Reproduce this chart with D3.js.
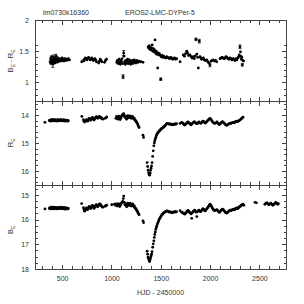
<!DOCTYPE html>
<meta charset="utf-8">
<script src="https://cdn.jsdelivr.net/npm/d3@7"></script>
<style type="text/css">
body { margin: 0; background: #fff; }
text { font-family: "Liberation Sans", Arial, sans-serif; fill: #333; }
.frame { fill: none; stroke: #444; stroke-width: 1; shape-rendering: crispEdges; }
.tick line { stroke: #444; shape-rendering: crispEdges; }
.domain { display: none; }
</style>
<body>
<script>

var title1 = "lm0730k16360";
var title2 = "EROS2-LMC-DYPer-5";
var xLabel = "HJD - 2450000";

var xTicks = [500, 1000, 1500, 2000, 2500];
var colorTicks = [1, 1.5, 2];
var rTicks = [14, 15, 16];
var bTicks = [15, 16, 17, 18];

// B_E - R_E colour: [day, value]
var colorPoints = [
  [378,1.33],[382,1.38],[386,1.3],[390,1.36],[394,1.41],[398,1.32],[402,1.35],[406,1.29],[410,1.37],[414,1.4],
  [418,1.33],[422,1.36],[426,1.31],[430,1.38],[434,1.34],[438,1.42],[442,1.36],[446,1.32],[450,1.37],[454,1.35],
  [458,1.39],[462,1.33],[466,1.36],[470,1.38],[476,1.35],[482,1.37],[488,1.34],[494,1.36],[500,1.39],[506,1.35],
  [512,1.37],[518,1.34],[524,1.36],[530,1.38],[536,1.36],[542,1.35],[548,1.37],[556,1.36],[564,1.38],[574,1.36],
  [699,1.33],[720,1.35],[728,1.37],[736,1.39],[744,1.38],[752,1.36],[760,1.38],[768,1.4],[776,1.38],[784,1.36],
  [792,1.37],[800,1.39],[808,1.37],[816,1.35],[824,1.36],[832,1.38],[840,1.36],[848,1.33],[870,1.31],[878,1.34],
  [886,1.37],[894,1.35],[902,1.33],[930,1.32],[940,1.35],[950,1.37],
  [1054,1.32],[1060,1.35],[1066,1.3],[1072,1.34],[1078,1.37],[1084,1.31],[1090,1.29],[1096,1.35],[1102,1.33],[1108,1.38],
  [1114,1.3],[1118,1.09],[1124,1.47],[1128,1.42],[1134,1.33],[1140,1.29],[1146,1.35],[1152,1.31],[1158,1.34],[1164,1.37],
  [1170,1.3],[1176,1.33],[1182,1.36],[1188,1.31],[1194,1.29],[1200,1.34],[1206,1.32],[1212,1.35],[1218,1.3],[1224,1.33],
  [1230,1.36],[1236,1.32],[1242,1.34],[1248,1.31],[1256,1.35],[1264,1.33],[1272,1.32],[1280,1.34],[1300,1.33],[1320,1.32],
  [1372,1.57],[1378,1.55],[1384,1.59],[1390,1.53],[1396,1.56],[1402,1.52],[1408,1.55],[1414,1.6],[1420,1.5],[1426,1.54],
  [1432,1.49],[1442,1.68],[1438,1.52],[1448,1.47],[1454,1.5],[1460,1.45],[1469,1.23],[1474,1.47],[1480,1.44],[1487,1.46],
  [1500,1.05],[1496,1.43],[1505,1.41],[1514,1.43],[1522,1.4],[1530,1.42],[1540,1.4],[1550,1.39],[1560,1.41],[1570,1.4],
  [1580,1.39],[1590,1.38],[1600,1.4],[1610,1.39],[1620,1.37],[1630,1.38],[1640,1.39],[1652,1.37],[1662,1.38],[1696,1.33],
  [1729,1.44],[1740,1.42],[1752,1.46],[1763,1.5],[1772,1.47],[1782,1.43],[1797,1.44],[1808,1.41],[1818,1.39],[1830,1.41],
  [1840,1.38],[1848,1.42],[1857,1.69],[1866,1.45],[1874,1.4],[1881,1.23],[1891,1.66],[1898,1.41],[1906,1.39],[1914,1.37],
  [1922,1.38],[1932,1.39],[1942,1.36],[1952,1.35],[1966,1.36],[1978,1.33],[1988,1.31],[1999,1.28],[2010,1.34],[2022,1.35],
  [2033,1.36],[2045,1.34],[2056,1.35],[2067,1.33],
  [2101,1.38],[2112,1.39],[2122,1.4],[2132,1.39],[2142,1.38],[2152,1.39],[2162,1.41],[2172,1.4],[2182,1.38],[2192,1.37],
  [2202,1.39],[2212,1.38],[2222,1.36],[2232,1.38],[2242,1.37],[2252,1.35],[2262,1.38],[2272,1.36],[2282,1.39],[2290,1.41],
  [2296,1.44],[2303,1.57],[2308,1.49],[2313,1.42],[2318,1.37],[2322,1.4],[2327,1.28],[2332,1.35],[2340,1.34]
];

// colour points carrying visible error bars: [day, value, error]
var colorErrors = [
  [390,1.36,0.06],[406,1.29,0.05],[414,1.4,0.04],[438,1.42,0.03],[720,1.35,0.02],[1118,1.09,0.03],[1124,1.47,0.04],
  [1500,1.05,0.02],[1857,1.69,0.02],[1891,1.66,0.03],[1999,1.28,0.03],[2303,1.57,0.03],[2327,1.28,0.02]
];

// R_E magnitude: [day, value]
var rPoints = [
  [326,14.26],[370,14.2],[376,14.18],[381,14.22],[386,14.19],[391,14.17],[396,14.21],[401,14.18],[406,14.2],[411,14.16],
  [416,14.19],[421,14.21],[426,14.18],[431,14.2],[436,14.17],[441,14.19],[446,14.22],[451,14.18],[456,14.2],[461,14.17],
  [466,14.19],[471,14.21],[476,14.18],[481,14.2],[486,14.16],[491,14.19],[496,14.2],[501,14.18],[506,14.21],[511,14.19],
  [516,14.17],[521,14.2],[526,14.22],[531,14.19],[536,14.18],[541,14.2],[546,14.21],[552,14.19],[558,14.22],[563,14.2],
  [700,14.05],[716,14.17],[722,14.22],[728,14.25],[734,14.23],[740,14.2],[746,14.17],[752,14.19],[758,14.22],[764,14.18],
  [770,14.14],[776,14.12],[782,14.15],[788,14.19],[794,14.16],[800,14.12],[806,14.09],[812,14.11],[818,14.15],[824,14.18],
  [830,14.14],[836,14.1],[842,14.08],[848,14.06],[854,14.09],[860,14.12],[866,14.1],[872,14.07],[878,14.05],[884,14.08],
  [890,14.11],[896,14.09],[904,14.12],[912,14.15],[935,14.12],[945,14.1],[952,14.07],
  [1045,14.12],[1052,14.05],[1058,14.1],[1064,14.15],[1070,14.08],[1076,14.04],[1082,14.1],[1088,14.16],[1094,14.12],[1100,14.06],
  [1106,14.02],[1112,14.0],[1118,13.97],[1124,13.95],[1130,14.02],[1136,14.08],[1142,14.04],[1148,14.1],[1154,14.15],[1160,14.08],
  [1166,14.02],[1172,14.05],[1178,14.1],[1184,14.06],[1190,14.03],[1196,14.08],[1202,14.12],[1208,14.1],[1214,14.05],[1220,14.09],
  [1226,14.14],[1232,14.12],[1238,14.18],[1244,14.2],[1250,14.22],[1256,14.26],[1262,14.3],[1268,14.35],[1274,14.4],[1280,14.45],
  [1320,14.72],[1326,14.8],
  [1362,15.7],[1367,15.84],[1372,15.97],[1377,16.06],[1382,16.12],[1387,16.15],[1392,16.08],[1397,15.98],[1402,15.9],[1407,15.82],
  [1412,15.7],[1418,15.48],[1424,15.28],[1430,15.1],[1435,15.0],[1440,14.92],[1445,14.85],[1450,14.8],[1455,14.74],[1460,14.7],
  [1466,14.66],[1472,14.63],[1478,14.6],[1484,14.58],[1490,14.55],[1497,14.52],[1504,14.5],[1511,14.48],[1518,14.46],[1525,14.44],
  [1532,14.42],[1540,14.4],[1548,14.36],[1556,14.33],[1564,14.3],[1572,14.3],[1580,14.32],[1588,14.33],[1596,14.32],[1604,14.33],
  [1612,14.34],[1620,14.35],[1628,14.34],[1636,14.33],[1644,14.32],[1652,14.33],[1660,14.31],[1696,14.3],[1712,14.26],[1720,14.28],
  [1728,14.31],[1736,14.34],[1744,14.36],[1752,14.33],[1760,14.3],[1768,14.27],[1776,14.25],[1784,14.27],[1792,14.3],[1800,14.33],
  [1808,14.35],[1816,14.32],[1824,14.29],[1832,14.26],[1840,14.24],[1848,14.26],[1856,14.29],[1864,14.31],[1872,14.3],[1880,14.27],
  [1888,14.25],[1896,14.28],[1904,14.3],[1912,14.28],[1920,14.25],[1928,14.22],[1936,14.24],[1944,14.27],[1952,14.29],[1960,14.26],
  [1968,14.23],[1976,14.2],[1984,14.17],[1992,14.14],[2000,14.12],[2008,14.15],[2016,14.2],[2024,14.24],[2032,14.27],[2040,14.29],
  [2048,14.3],[2060,14.28],[2070,14.25],[2078,14.28],[2086,14.32],[2094,14.34],[2102,14.32],[2110,14.29],[2118,14.26],[2126,14.24],
  [2134,14.26],[2142,14.29],[2150,14.32],[2158,14.35],[2166,14.37],[2174,14.36],[2182,14.34],[2190,14.32],[2198,14.3],[2206,14.29],
  [2214,14.3],[2222,14.28],[2230,14.27],[2238,14.26],[2246,14.28],[2254,14.25],[2262,14.23],[2270,14.22],[2278,14.24],[2286,14.22],
  [2294,14.2],[2302,14.18],[2310,14.16],[2318,14.13],[2326,14.1],[2334,14.08]
];

// B_E magnitude: [day, value]
var bPoints = [
  [326,15.57],[370,15.55],[376,15.52],[381,15.57],[386,15.54],[391,15.5],[396,15.56],[401,15.53],[406,15.55],[411,15.5],
  [416,15.54],[421,15.57],[426,15.52],[431,15.55],[436,15.51],[441,15.54],[446,15.57],[451,15.53],[456,15.55],[461,15.51],
  [466,15.54],[471,15.56],[476,15.53],[481,15.55],[486,15.5],[491,15.54],[496,15.55],[501,15.52],[506,15.56],[511,15.54],
  [516,15.51],[521,15.55],[526,15.58],[531,15.54],[536,15.52],[541,15.55],[546,15.57],[552,15.54],[558,15.57],[563,15.55],
  [698,15.35],[716,15.52],[722,15.6],[728,15.66],[734,15.62],[740,15.58],[746,15.53],[752,15.56],[758,15.6],[764,15.55],
  [770,15.5],[776,15.47],[782,15.51],[788,15.56],[794,15.52],[800,15.47],[806,15.43],[812,15.46],[818,15.51],[824,15.55],
  [830,15.5],[836,15.45],[842,15.42],[848,15.4],[854,15.44],[860,15.48],[866,15.45],[872,15.41],[878,15.38],[884,15.36],
  [890,15.4],[896,15.44],[904,15.47],[912,15.5],[935,15.46],[945,15.44],[952,15.42],
  [1003,15.4],[1030,15.38],[1040,15.42],[1048,15.36],[1054,15.4],[1060,15.45],[1066,15.39],[1072,15.35],[1078,15.41],[1084,15.47],
  [1090,15.43],[1096,15.37],[1102,15.33],[1108,15.3],[1114,15.26],[1120,15.15],[1125,15.05],[1130,15.3],[1136,15.4],[1142,15.35],
  [1148,15.42],[1154,15.48],[1160,15.4],[1166,15.33],[1172,15.37],[1178,15.43],[1184,15.38],[1190,15.34],[1196,15.4],[1202,15.45],
  [1208,15.42],[1214,15.37],[1220,15.41],[1226,15.47],[1232,15.45],[1238,15.52],[1244,15.55],[1250,15.57],[1256,15.62],[1262,15.66],
  [1268,15.71],[1274,15.76],[1280,15.8],[1320,16.05],[1326,16.12],
  [1362,17.28],[1367,17.4],[1372,17.52],[1377,17.6],[1382,17.67],[1387,17.7],[1392,17.63],[1397,17.55],[1402,17.47],[1407,17.4],
  [1412,17.3],[1418,17.12],[1424,16.98],[1430,16.86],[1435,16.72],[1440,16.6],[1445,16.5],[1450,16.4],[1455,16.32],[1460,16.26],
  [1466,16.18],[1472,16.12],[1478,16.06],[1484,16.0],[1490,15.95],[1497,15.9],[1504,15.85],[1511,15.81],[1518,15.78],[1525,15.75],
  [1532,15.72],[1540,15.7],[1548,15.68],[1556,15.66],[1564,15.65],[1572,15.66],[1580,15.68],[1588,15.7],[1596,15.69],[1604,15.7],
  [1612,15.71],[1620,15.72],[1628,15.7],[1636,15.69],[1644,15.68],[1652,15.7],[1660,15.68],[1696,15.64],[1712,15.7],[1720,15.72],
  [1728,15.74],[1736,15.76],[1744,15.78],[1752,15.74],[1760,15.7],[1768,15.66],[1776,15.63],[1784,15.66],[1792,15.7],[1800,15.74],
  [1808,15.77],[1814,15.95],[1820,15.72],[1828,15.68],[1836,15.65],[1844,15.62],[1852,15.66],[1860,15.7],[1866,15.88],[1872,15.68],
  [1880,15.65],[1888,15.62],[1896,15.66],[1904,15.68],[1912,15.65],[1920,15.6],[1928,15.56],[1936,15.59],[1944,15.63],[1952,15.65],
  [1960,15.6],[1968,15.56],[1976,15.52],[1984,15.47],[1992,15.42],[2000,15.38],[2008,15.42],[2016,15.48],[2024,15.54],[2032,15.59],
  [2040,15.62],[2048,15.64],[2060,15.62],[2070,15.6],[2078,15.64],[2086,15.68],[2094,15.71],[2102,15.68],[2110,15.64],[2118,15.6],
  [2126,15.58],[2134,15.6],[2142,15.64],[2150,15.68],[2158,15.72],[2166,15.74],[2174,15.72],[2182,15.69],[2190,15.66],[2198,15.64],
  [2206,15.62],[2214,15.64],[2222,15.61],[2230,15.6],[2238,15.58],[2246,15.61],[2254,15.57],[2262,15.55],[2270,15.53],[2278,15.56],
  [2286,15.53],[2294,15.5],[2302,15.47],[2310,15.45],[2318,15.42],[2326,15.4],[2334,15.38],[2342,15.42],
  [2456,15.3],[2470,15.32],[2556,15.38],[2566,15.34],[2576,15.31],[2586,15.36],[2596,15.4],[2606,15.37],[2616,15.33],[2626,15.38],
  [2636,15.42],[2646,15.39],[2656,15.35],[2666,15.3],[2676,15.34],[2686,15.38],[2692,15.35]
];

var width = 304, height = 304;
var left = 35, right = 286;
var bounds = [20, 101, 185, 269];

var svg = d3.select("body").append("svg")
    .attr("width", width)
    .attr("height", height);

svg.append("rect").attr("width", width).attr("height", height).attr("fill", "#fff");

var x = d3.scaleLinear().domain([225, 2770]).range([left, right]);
var xMinor = d3.range(300, 2800, 100).filter(function(d) { return d % 500 != 0; });

var yC = d3.scaleLinear().domain([0.7, 2]).range([bounds[1], bounds[0]]);
var yR = d3.scaleLinear().domain([13.5, 16.5]).range([bounds[1], bounds[2]]);
var yB = d3.scaleLinear().domain([14.6, 18]).range([bounds[2], bounds[3]]);

var panels = [
  {y: yC, top: bounds[0], bottom: bounds[1], major: colorTicks, minor: [0.8, 0.9, 1.1, 1.2, 1.3, 1.4, 1.6], fmt: d3.format("")},
  {y: yR, top: bounds[1], bottom: bounds[2], major: rTicks, minor: [13.6, 13.8, 14.2, 14.4, 14.6, 14.8, 15.2, 15.4, 15.6, 15.8, 16.2, 16.4], fmt: d3.format("d")},
  {y: yB, top: bounds[2], bottom: bounds[3], major: bTicks, minor: [14.75, 15.25, 15.5, 15.75, 16.25, 16.5, 16.75, 17.25, 17.5, 17.75], fmt: d3.format("d")}
];

panels.forEach(function(p) {
  // y ticks, left side with labels, right side without
  svg.append("g").attr("transform", "translate(" + left + ",0)")
      .call(d3.axisLeft(p.y).tickValues(p.major).tickSize(-4).tickPadding(6).tickFormat(p.fmt))
      .selectAll("text").style("font-size", "7px").style("fill", "#333");
  svg.append("g").attr("transform", "translate(" + left + ",0)")
      .call(d3.axisLeft(p.y).tickValues(p.minor).tickSize(-2.5).tickFormat(""));
  svg.append("g").attr("transform", "translate(" + right + ",0)")
      .call(d3.axisRight(p.y).tickValues(p.major).tickSize(-4).tickFormat(""));
  svg.append("g").attr("transform", "translate(" + right + ",0)")
      .call(d3.axisRight(p.y).tickValues(p.minor).tickSize(-2.5).tickFormat(""));
  // x ticks on top and bottom edges, pointing inward
  svg.append("g").attr("transform", "translate(0," + p.top + ")")
      .call(d3.axisTop(x).tickValues(xTicks).tickSize(-4.5).tickFormat(""));
  svg.append("g").attr("transform", "translate(0," + p.top + ")")
      .call(d3.axisTop(x).tickValues(xMinor).tickSize(-3).tickFormat(""));
  svg.append("g").attr("transform", "translate(0," + p.bottom + ")")
      .call(d3.axisBottom(x).tickValues(xTicks).tickSize(-4.5).tickFormat(""));
  svg.append("g").attr("transform", "translate(0," + p.bottom + ")")
      .call(d3.axisBottom(x).tickValues(xMinor).tickSize(-3).tickFormat(""));
  svg.append("rect").attr("class", "frame")
      .attr("x", left).attr("y", p.top)
      .attr("width", right - left).attr("height", p.bottom - p.top);
});

// x tick labels on the bottom panel
svg.append("g").attr("transform", "translate(0," + bounds[3] + ")")
    .call(d3.axisBottom(x).tickValues(xTicks).tickSize(0).tickPadding(7).tickFormat(d3.format("d")))
    .selectAll("text").style("font-size", "7px").style("fill", "#333");

// error bars
svg.selectAll(".err").data(colorErrors).enter().append("line")
    .attr("class", "err")
    .attr("x1", function(d) { return x(d[0]); })
    .attr("x2", function(d) { return x(d[0]); })
    .attr("y1", function(d) { return yC(d[1] - d[2]); })
    .attr("y2", function(d) { return yC(d[1] + d[2]); })
    .attr("stroke", "#111").attr("stroke-width", 0.8);
svg.selectAll(".cap").data(colorErrors.concat(colorErrors.map(function(d) { return [d[0], d[1], -d[2]]; })))
    .enter().append("line")
    .attr("class", "cap")
    .attr("x1", function(d) { return x(d[0]) - 1.5; })
    .attr("x2", function(d) { return x(d[0]) + 1.5; })
    .attr("y1", function(d) { return yC(d[1] + d[2]); })
    .attr("y2", function(d) { return yC(d[1] + d[2]); })
    .attr("stroke", "#111").attr("stroke-width", 0.8);

function dots(data, y) {
  svg.append("g").selectAll("circle").data(data).enter().append("circle")
      .attr("cx", function(d) { return x(d[0]); })
      .attr("cy", function(d) { return y(d[1]); })
      .attr("r", 1.4)
      .attr("fill", "#000");
}
dots(colorPoints, yC);
dots(rPoints, yR);
dots(bPoints, yB);

// titles
svg.append("text").attr("x", 43).attr("y", 15).style("font-size", "7px").text(title1);
svg.append("text").attr("x", 125).attr("y", 15).style("font-size", "7px").text(title2);

svg.append("text").attr("x", (left + right) / 2).attr("y", 295)
    .style("text-anchor", "middle").style("font-size", "7px").text(xLabel);

// y labels
function yLabel(cx, cy, parts) {
  var t = svg.append("text")
      .attr("transform", "translate(" + cx + "," + cy + ") rotate(-90)")
      .style("text-anchor", "middle").style("font-size", "8px");
  parts.forEach(function(p) {
    t.append("tspan").text(p[0])
        .attr("dy", p[1])
        .style("font-size", p[1] ? "5px" : "8px");
  });
}
yLabel(13, 61, [["B", 0], ["E", 2], [" \u2013 ", -2], ["R", 0], ["E", 2]]);
yLabel(13, 143, [["R", 0], ["E", 2]]);
yLabel(13, 230, [["B", 0], ["E", 2]]);

</script>
</body>
</html>
